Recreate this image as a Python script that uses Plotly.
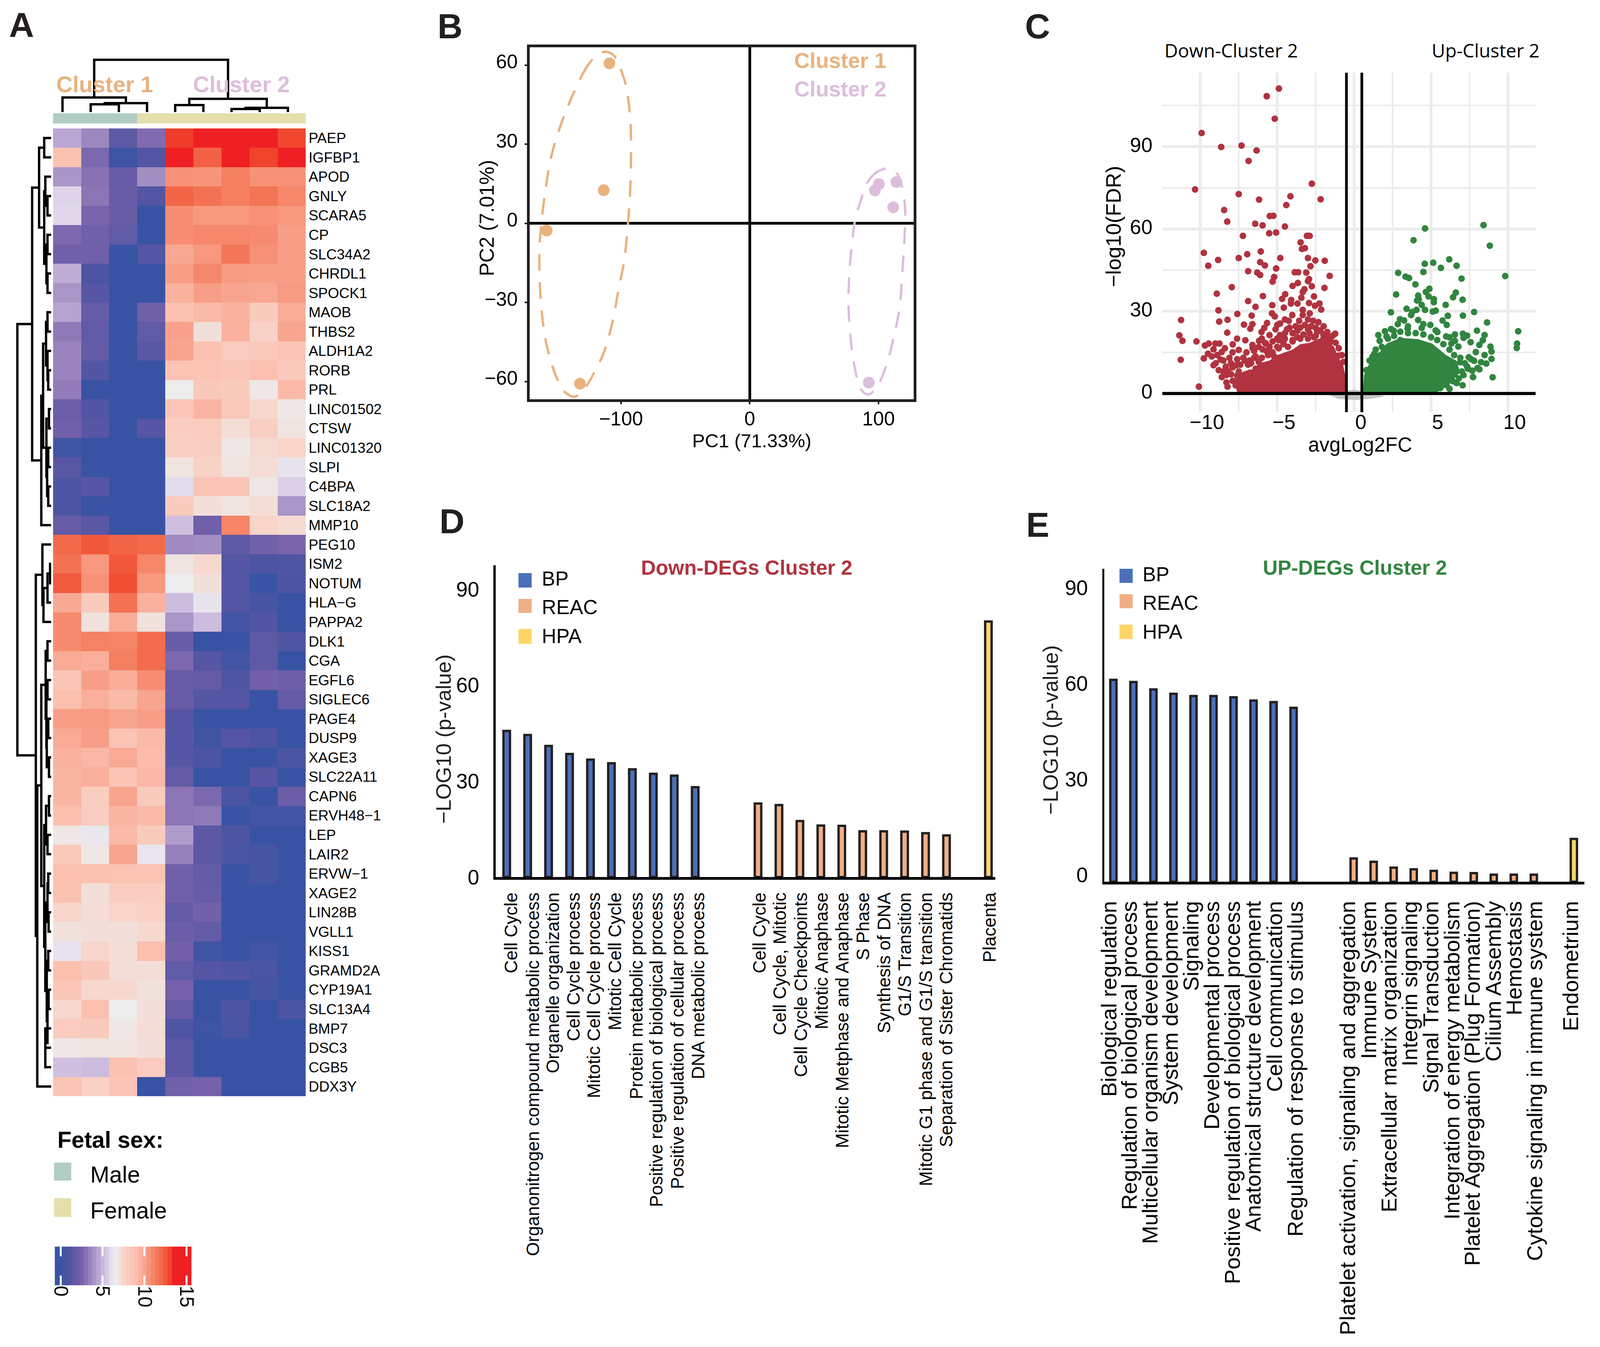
import plotly.graph_objects as go

# Reference frame used for placing panels as fractions of the page; the window may be narrower than this.
W, H = 4379, 3448
FX = 0.935   # the browser window is capped at 4096 wide: horizontal text is scaled to keep its share of the width
FONT = "Liberation Sans"
INK = "#231F20"

# ---------- Panel A data ----------
genes = ["PAEP","IGFBP1","APOD","GNLY","SCARA5","CP","SLC34A2","CHRDL1","SPOCK1","MAOB","THBS2","ALDH1A2","RORB","PRL",
         "LINC01502","CTSW","LINC01320","SLPI","C4BPA","SLC18A2","MMP10","PEG10","ISM2","NOTUM","HLA\u2212G","PAPPA2","DLK1","CGA",
         "EGFL6","SIGLEC6","PAGE4","DUSP9","XAGE3","SLC22A11","CAPN6","ERVH48\u22121","LEP","LAIR2","ERVW\u22121","XAGE2","LIN28B",
         "VGLL1","KISS1","GRAMD2A","CYP19A1","SLC13A4","BMP7","DSC3","CGB5","DDX3Y"]
expression = [
 [4.5,3.6,1.6,2.8,13.1,13.5,13.5,13.5,12.9],
 [8.8,2.7,0.2,1.2,13.5,12.2,13.5,13.0,13.5],
 [4.0,3.0,1.9,3.8,10.6,10.5,11.2,10.6,10.6],
 [5.7,3.1,2.0,1.2,12.1,11.7,11.2,11.6,10.9],
 [5.8,2.6,2.0,0,10.7,10.4,10.4,10.6,10.4],
 [2.7,2.3,1.7,0,10.7,10.9,10.9,10.8,10.2],
 [2.3,2.3,0,1.2,9.9,10.4,11.5,10.6,10.2],
 [4.7,0.8,0,0,10.2,10.9,10.3,10.2,10.2],
 [4.0,1.3,0,0,9.5,10.2,10.0,9.9,10.3],
 [4.4,1.9,0,2.3,8.8,9.2,9.5,8.2,9.7],
 [3.2,1.7,0,1.7,10.1,7.1,9.5,7.7,10.0],
 [3.5,1.8,0,1.4,10.0,8.8,8.1,8.3,8.6],
 [3.5,1.1,0,0,8.7,8.7,8.5,8.9,8.3],
 [3.3,0,0,0,6.6,8.4,8.2,6.8,9.2],
 [2.2,1.1,0,0,8.5,9.4,8.3,7.4,6.8],
 [2.3,1.3,0,1.3,8.0,8.1,7.2,7.9,6.9],
 [0.3,0,0,0,7.9,8.0,6.8,7.3,7.6],
 [1.4,0,0,0,6.9,7.7,6.9,7.2,6.2],
 [0.9,1.3,0,0,5.9,8.6,8.6,6.8,5.6],
 [0.9,0.1,0,0,8.2,7.1,6.9,7.2,4.0],
 [1.9,1.4,0,0,5.2,2.3,11.0,7.6,7.3],
 [12.0,12.5,12.1,12.0,3.7,3.8,1.6,2.3,2.6],
 [11.7,10.4,12.5,10.9,6.9,7.4,1.2,0.9,1.0],
 [12.4,10.6,12.7,10.4,6.6,7.1,1.2,0,0.9],
 [9.9,8.2,11.7,9.5,5.1,6.2,1.2,0.6,0],
 [10.8,7.0,9.7,7.0,4.0,5.1,0.5,1.1,0],
 [10.8,11.1,11.0,11.9,2.0,0,0,1.6,1.0],
 [9.8,9.6,11.2,11.9,2.7,1.2,0.5,1.6,0],
 [8.6,10.2,9.7,10.7,2.0,1.8,1.0,2.4,2.2],
 [9.0,9.6,9.2,10.0,2.0,1.2,1.2,0,1.8],
 [10.2,10.3,10.0,10.2,1.3,0,0,0,0],
 [9.8,10.2,8.7,9.2,1.3,0.3,1.2,0.9,0],
 [9.5,9.3,9.8,9.1,1.3,0.8,0,0,0.8],
 [9.4,9.6,8.7,9.3,1.8,0,0,1.3,0],
 [9.4,8.0,10.0,8.2,3.1,2.7,0.8,0,2.1],
 [9.0,8.1,9.4,9.2,3.1,3.2,0,0.5,0.5],
 [6.8,6.3,9.2,8.2,4.2,1.5,0.9,0,0],
 [8.3,6.8,10.0,6.3,3.4,1.5,0.7,0.6,0],
 [8.9,8.8,8.7,8.7,2.3,1.8,0,0.6,0],
 [8.8,7.1,8.0,8.0,2.3,1.9,0,0,0],
 [7.5,7.2,7.6,7.8,1.8,2.4,0,0,0],
 [7.0,7.1,7.1,7.4,2.1,1.8,0,0,0],
 [6.1,7.5,7.2,9.0,2.4,0.3,0,0.5,0],
 [9.0,8.4,7.2,7.2,1.7,1.2,1.0,0.7,0],
 [8.5,7.4,7.4,7.0,2.5,0,0,0.6,0],
 [7.4,8.9,6.6,7.1,1.9,0,0.9,0,0.7],
 [8.1,8.2,6.8,7.2,1.0,0.2,0.7,0,0],
 [6.8,6.9,6.9,7.1,1.5,0,0,0,0],
 [5.2,5.1,8.8,8.1,1.5,0,0,0,0],
 [8.6,7.8,8.6,0,2.3,2.5,0,0,0],
]
fetal_sex = [0,0,0,1,1,1,1,1,1]
color_stops = [(0,"#3953A4"),(1.2,"#5455A3"),(2.5,"#7561AA"),(3.5,"#9A83BD"),(5,"#C9B8DC"),(6,"#E6E0EE"),(6.6,"#ECECEC"),
               (7.5,"#F8D5CB"),(9,"#FBBFAE"),(10,"#F8A58F"),(11,"#F68467"),(12,"#F26A4A"),(13,"#F0432B"),(13.5,"#EE2024"),(16,"#EE2024")]
colorbar_steps = [-0.7,-0.4,0,0.4,0.8,1.2,1.6,2,2.5,3,3.5,4,4.5,5,5.5,6,6.3,6.6,7,7.5,8,8.5,9,9.5,10,10.5,11,11.5,12,12.5,13,13.5,14,14.5,15,15.6]
row_tree = (92.5,
    (52, (33, (19,0,1), (19,(16,2,(10,3,4)),(13,(10,5,6),(10,7,8)))),
         (27, (22,(14,(10,9,10),(10,11,(8,12,13))),(13,(6,14,15),(11,(8,16,17),(8,18,19)))),20)),
    (42, (24,21,(21,(10,(3,22,23),24),25)),
         (38, (27, (15,(10,26,27),(13,(10,28,29),(12,(8,30,31),(6,32,33)))),
                   (19,(14,(6,34,35),(10,36,37)),
                       (16,(10,(8,38,39),(7,40,41)),(12,(8,42,43),(10,(7,44,45),(16,46,(16,47,48)))))))
              ,49)))
col_tree = (134, (37.5,0,(23,(20,1,2),3)), (34,(18,4,5),(11,(8,6,7),8)))

# ---------- Panel B data ----------
c1_pc1 = [-109,-113.4,-157.7,-131.9]
c1_pc2 = [60.7,12.6,-2.7,-60.8]
c2_pc1 = [100.3,97.2,113.9,111.4,92.4]
c2_pc2 = [14.9,12.5,15.7,6.1,-60.4]
c1_ring_x = [-118.2,-125.8,-137.2,-146.1,-153.7,-158.2,-161.3,-163.3,-163.0,-161.3,-157.5,-149.9,-143.5,-135.9,-127.1,-119.5,-113.2,-106.8,-101.8,-97.5,-94.7,-92.9,-92.2,-92.9,-96.2,-100.5,-105.6,-111.9,-118.2]
c1_ring_y = [64.0,59.9,49.0,38.2,26.2,14.2,2.3,-9.7,-22.7,-34.7,-46.6,-58.6,-64.0,-65.7,-61.8,-55.3,-48.8,-37.9,-24.9,-14.0,-1.0,12.1,26.2,40.3,52.3,58.8,63.7,65.1,64.0]
c2_ring_x = [108.4,99.5,91.9,85.6,81.8,79.2,77.2,76.7,78.5,81.8,86.3,91.9,98.2,105.8,112.2,116.5,118.5,120.3,120.5,118.5,114.7,108.4]
c2_ring_y = [20.8,19.7,15.9,7.7,1.2,-8.6,-20.5,-31.4,-44.5,-55.3,-62.9,-64.9,-62.4,-54.2,-42.3,-31.4,-18.4,-4.2,6.6,13.2,18.6,20.8]

# ---------- Panel C data ----------
down_x = [-4.89,-5.68,-5.16,-9.91,-8.64,-7.32,-6.34,-6.86,-10.34,-2.75,-7.5,-4.14,-2.18,-6.18,-4.41,-8.45,-8.25,-5.48,-5.25,-6.43,-5.95,-4.5,-5.52,-5.07,-7.23,-3.07,-2.89,-3.48,-3.39,-3.2,-9.77,-6.07,-6.95,-7.5,-4.8,-8.84,-3.0,-2.52,-1.91,-6.11,-5.8,-9.48,-5.07,-2.84,-6.89,-6.3,-6.11,-3.86,-3.64,-3.11,-1.59,-5.2,-5.3,-2.93,-3.0,-3.66,-4.0,-2.75,-7.95,-1.93,-3.23,-3.34,-8.93,-4.48,-5.93,-2.61,-4.68,-4.09,-3.43,-6.89,-4.11,-2.93,-2.25,-5.32,-3.68,-6.41,-4.57,-2.55,-8.82,-2.14,-3.34,-7.59,-6.66,-5.34,-5.16,-4.02,-3.34,-2.89,-11.25,-8.23,-8.77,-5.66,-7.16,-6.61,-6.75,-4.82,-4.25,-3.57,-2.66,-2.32,-5.84,-6.02,-5.11,-4.36,-3.68,-3.0,-1.98,-8.25,-1.23,-11.36,-11.16,-10.25,-7.61,-7.07,-6.18,-5.5,-4.82,-1.75,-9.45,-9.02,-8.75,-7.89,-6.61,-5.73,-4.59,-9.14,-8.61,-7.5,-5.95,-1.0,-9.77,-9.25,-11.27,-8.68,-8.11,-9.14,-8.34,-7.66,-10.09,-8.23,-7.52,-8.32,-7.89,-6.86,-7.32,
          -6.5,-6.0,-5.5,-5.0,-4.5,-4.0,-3.5,-3.0,-2.5,-2.0,-1.5,-7.0,-6.8,-8.5,-7.5,-7.0,-6.5,-5.0,-4.0,-3.5,-4.5,-5.0,-2.8,-3.0,-2.2,-9.5,-8.9,-9.7,-8.4,-8.0,-8.8,-7.6,-6.9,-6.2,-5.6,-5.2,
          -8.6,-8.2,-7.9,-7.4,-7.1,-6.7,-6.4,-6.0,-5.7,-5.3,-4.9,-4.6,-4.3,-4.0,-3.7,-3.3,-2.9,-2.6,-2.4,-2.0,-1.7,-1.4,-1.2,-1.0,-0.8,-0.7,-6.6,-6.2,-5.8,-5.3,-4.9,-4.5,-4.2,-3.8,-3.2,-2.5,-8.0,-7.6,-8.3,-7.7,-7.1,-9.0,-8.5,-7.9,-7.2,-6.4,-6.8]
down_y = [111.2,108.4,100.2,95.0,89.9,90.4,88.6,84.8,74.4,76.5,72.7,71.9,70.8,70.7,68.7,66.9,62.7,64.7,64.8,61.9,61.3,60.9,58.4,58.7,57.5,57.5,57.5,55.1,52.7,53.0,51.3,51.8,50.8,49.4,49.4,48.7,49.4,48.5,48.4,47.9,46.7,46.6,45.6,46.4,44.6,44.1,43.2,44.2,44.2,44.1,42.9,42.5,40.8,41.7,41.0,40.3,39.2,39.1,38.8,38.5,38.0,37.0,36.4,36.2,35.5,35.4,34.5,34.1,34.9,33.7,32.8,33.0,32.8,32.2,32.8,31.6,31.3,32.0,30.3,30.6,30.5,29.0,28.4,29.2,28.1,28.6,28.6,29.2,26.8,26.9,26.2,25.7,25.1,25.3,23.6,25.5,26.5,26.5,26.5,26.0,23.9,22.4,23.4,23.4,22.9,23.4,24.5,22.2,21.8,21.2,19.2,19.0,20.0,19.4,19.2,21.3,21.3,22.4,18.2,18.2,18.2,17.9,17.7,18.2,18.2,16.1,15.1,15.9,16.1,13.8,12.8,13.5,12.3,12.4,13.0,10.3,9.8,10.3,2.5,2.5,3.0,6.7,4.6,2.5,1.5,
          13,20,17,20,22,22,20,20,21,20,19,15,12,8,8,6,15.5,17,19.5,24,27,25,24.5,27,23,14.5,14,17.5,16.5,11,8.5,12.5,10.5,11.5,14,13.5,
          6,8,9.5,10.5,12,11,13.5,13,15.5,15,16.5,18,17,19,20.5,21.5,22,20.5,22.5,21.5,20.5,21,18.5,16.5,14,11.5,16.5,17,18.5,19,19.5,20,24,24.5,25,24,7,6.5,4,3,2.5,11,12,15,13,9,7.5]
down_core_x = [-7.6,-7.8,-7.2,-6.5,-6.2,-5.5,-5.0,-4.5,-4.0,-3.5,-2.9,-2.3,-1.8,-1.3,-1.0,-0.7,-0.55,-0.5,-7.6]
down_core_y = [0.3,5,8,9,11,12,14,15,16,18,18.5,20,20,17,13,10,6,0.3,0.3]
up_x = [4.61,8.41,3.86,8.82,6.18,4.59,5.14,6.66,5.64,4.5,2.86,3.34,3.57,9.82,6.98,3.98,4.89,6.61,4.66,2.73,4.16,6.43,4.84,4.2,5.18,7.05,4.09,5.18,4.39,5.95,3.41,2.39,3.77,5.3,5.11,7.8,4.05,4.61,7.07,6.09,3.7,2.98,3.25,4.16,5.75,8.64,2.84,4.5,6.02,4.95,4.39,3.48,2.0,10.66,7.98,2.57,5.41,7.07,6.55,1.57,8.48,2.11,5.98,7.34,7.11,6.55,1.66,8.36,10.59,10.57,8.86,8.14,7.57,6.77,6.32,8.93,7.91,8.48,8.93,7.45,8.25,7.8,8.59,8.14,9.0,7.68,7.73,7.11,7.05,6.66,6.2,8.02,6.89,7.34,1.32,1.2,
        1.0,1.4,1.8,2.2,2.6,3.0,3.5,4.0,4.5,5.0,5.4,5.8,6.2,6.5,6.9,7.2,7.4,7.0,6.8,6.4,6.0,5.6,3.0,3.5,2.4,1.2,0.8,7.6,6.2,5.3]
up_y = [60.2,61.4,55.9,53.9,48.9,47.3,47.7,46.6,45.8,44.3,44.0,42.6,42.1,42.8,41.9,39.8,38.2,36.8,37.0,36.1,35.7,35.1,35.4,34.4,34.4,34.2,33.9,33.3,32.3,32.3,30.9,29.6,29.7,30.2,29.9,29.7,30.5,30.5,28.4,28.3,28.6,27.1,26.6,26.8,26.6,25.9,25.3,25.3,25.0,25.0,23.9,23.6,22.7,22.7,22.9,22.9,22.4,21.8,21.5,21.3,21.3,20.8,20.8,21.1,20.3,19.2,19.2,19.4,18.2,16.6,17.1,17.7,18.7,17.1,18.2,15.3,15.1,14.0,12.6,13.2,11.4,11.9,10.9,8.8,5.9,8.3,6.0,6.7,3.0,3.8,1.7,9.3,11.4,9.8,14.5,13.5,
        12,16,17,20,21,22.5,22,22,21.5,20.5,19.5,18,16,14,13,11,9,8,5.5,4.5,3,2,19.5,24.5,23.5,11,8.5,12.5,20.5,23]
up_core_x = [0.57,0.64,0.98,1.2,1.66,2.11,3.02,4.16,5.07,5.98,6.66,6.89,6.2,5.52,5.3,0.57]
up_core_y = [0.4,6.7,10.9,14.0,15.1,18.2,20.3,19.8,18.2,14.0,11.9,7.7,3.6,0.9,0.3,0.4]
ns_x = [-1.8,-1.0,0,1.0,2.0,0.5,0,-0.5,-1.0,-1.8]
ns_y = [-0.3,-2,-2.4,-2,-1,0.8,1.5,1,0,-0.3]

# ---------- Panels D, E data ----------
idx_bp = [0,1,2,3,4,5,6,7,8,9]
idx_reac = [12,13,14,15,16,17,18,19,20,21]
idx_hpa = [23]
d_bp = [45.7,44.4,41.0,38.5,36.7,35.6,33.7,32.3,31.7,28.1]
d_reac = [23.0,22.5,17.5,16.1,16.0,14.3,14.3,14.2,13.7,13.0]
d_hpa = [79.9]
d_labels = ["Cell Cycle","Organonitrogen compound metabolic process","Organelle organization","Cell Cycle process","Mitotic Cell Cycle process",
            "Mitotic Cell Cycle","Protein metabolic process","Positive regulation of biological process","Positive regulation of cellular process","DNA metabolic process",
            "Cell Cycle","Cell Cycle, Mitotic","Cell Cycle Checkpoints","Mitotic Anaphase","Mitotic Metphase and Anaphase","S Phase","Synthesis of DNA",
            "G1/S Transition","Mitotic G1 phase and G1/S transition","Separation of Sister Chromatids","Placenta"]
d_label_pos = [0.23,1.26,2.22,3.2,4.17,5.19,6.2,7.16,8.17,9.16,12.08,13.05,14.06,15.05,16.04,17.02,18.03,19.03,20.03,21.0,23.07]
e_bp = [63.3,62.6,60.3,58.9,58.2,58.2,57.8,56.8,56.3,54.5]
e_reac = [7.3,6.25,4.4,3.9,3.4,2.8,2.7,2.2,2.2,2.2]
e_hpa = [13.4]
e_labels = ["Biological regulation","Regulation of biological process","Multicellular organism development","System development","Signaling",
            "Developmental process","Positive regulation of biological process","Anatomical structure development","Cell communication","Regulation of response to stimulus",
            "Platelet activation, signaling and aggregation","Immune System","Extracellular matrix organization","Integrin signaling","Signal Transduction",
            "Integration of energy metabolism","Platelet Aggregation (Plug Formation)","Cilium Assembly","Hemostasis","Cytokine signaling in immune system","Endometrium"]
e_label_pos = [-0.21,0.81,1.84,2.85,3.9,4.93,5.97,7.0,8.06,9.11,11.72,12.77,13.79,14.81,15.87,16.93,17.95,19.0,20.02,21.07,22.86]
BLUE, PEACH, YELL = "#4A70B9", "#EFAF86", "#FDD667"
RED, GREEN = "#B0333F", "#31853F"
ORANGE_C, LILAC_C = "#E8B27E", "#DDBDDC"

# ---------- helpers ----------
def dx(l, r): return [l/W, r/W]
def dy(t, b): return [1-b/H, 1-t/H]
layout_axes = {}
def axes(n, xdom, ydom, xr, yr, **kw):
    base = {"showgrid":False, "zeroline":False, "showticklabels":False, "ticks":"", "automargin":False}
    xk = dict(base, domain=xdom, range=xr, anchor=f"y{n}")
    yk = dict(base, domain=ydom, range=yr, anchor=f"x{n}")
    xk.update(kw.get("x", {})); yk.update(kw.get("y", {}))
    layout_axes[f"xaxis{n}"] = xk; layout_axes[f"yaxis{n}"] = yk
    return dict(xaxis=f"x{n}", yaxis=f"y{n}")

def tree_lines(node, horizontal_leaves):
    xs, ys = [], []
    def walk(nd):
        if isinstance(nd, int):
            return float(nd), 0.0
        h, a, b = nd
        pa, ha = walk(a); pb, hb = walk(b)
        for p, v in [(pa,ha),(pa,h),(pb,h),(pb,hb)]:
            if horizontal_leaves: xs.append(p); ys.append(v)
            else: xs.append(v); ys.append(p)
        xs.append(None); ys.append(None)
        return (pa+pb)/2, h
    walk(node)
    return xs, ys

annots, shapes = [], []
def text(t, x, y, size, color="black", bold=False, anchor="center", angle=0, family=FONT):
    sz = size*FX if angle == 0 else size
    annots.append(dict(text=f"<b>{t}</b>" if bold else t, x=x/W, y=1-y/H, xref="paper", yref="paper", showarrow=False,
                       xanchor=anchor, yanchor="middle", textangle=angle, font=dict(size=sz, color=color, family=family)))
def square(l, t, r, b, color):
    shapes.append(dict(type="rect", xref="paper", yref="paper", x0=l/W, x1=r/W, y0=1-b/H, y1=1-t/H, fillcolor=color, line=dict(width=0)))

fig = go.Figure()
cs = [[v/16, c] for v, c in color_stops]

# ---------- Panel A ----------
a = axes(1, dx(145,837), dy(328.5,2806), [-0.5,8.5], [49.5,-0.5],
         y=dict(side="right", tickmode="array", tickvals=list(range(50)), ticktext=genes, showticklabels=True,
                tickfont=dict(size=37, family=FONT, color="black"), ticklabelstandoff=6))
fig.add_trace(go.Heatmap(z=expression, colorscale=cs, zmin=0, zmax=16, showscale=False, xgap=0, ygap=0, **a))
a = axes(2, dx(145,837), dy(290,316), [-0.5,8.5], [0,1])
fig.add_trace(go.Heatmap(z=[fetal_sex], y=[0.5], colorscale=[[0,"#B0CCC3"],[1,"#E4DFAC"]], zmin=0, zmax=1, showscale=False, **a))
a = axes(3, dx(30,140), dy(328.5,2806), [110,0], [49.5,-0.5])
lx, ly = tree_lines(row_tree, False)
fig.add_trace(go.Scatter(x=lx, y=ly, mode="lines", line=dict(color="black", width=6), **a))
a = axes(4, dx(132.5,826.5), dy(140,287), [-0.5,8.5], [0,147])
tx, ty = tree_lines(col_tree, True)
fig.add_trace(go.Scatter(x=tx, y=ty, mode="lines", line=dict(color="black", width=6), **a))
a = axes(5, dx(150,524), dy(3191,3290), [-0.7,15.6], [0,1],
         x=dict(tickmode="array", tickvals=[0,5,10,15], ticktext=["0","5","10","15"], showticklabels=True, tickangle=90,
                ticks="inside", ticklen=25, tickwidth=5, tickcolor="white", mirror="ticks",
                tickfont=dict(size=50, family=FONT, color="black")))
fig.add_trace(go.Heatmap(z=[colorbar_steps], x=colorbar_steps, y=[0.5], colorscale=cs, zmin=0, zmax=16, showscale=False, **a))
text("Cluster 1", 287, 216, 62, ORANGE_C, True)
text("Cluster 2", 661, 216, 62, LILAC_C, True)
text("Fetal sex:", 155, 2917, 63, "black", True, "left")
square(148,2976,195,3022,"#B0CCC3"); text("Male", 245, 3006, 63, "black", False, "left")
square(148,3067,195,3115,"#E4DFAC"); text("Female", 245, 3098, 63, "black", False, "left")

# ---------- Panel B ----------
b_tick = dict(size=50, family=FONT, color="black")
a = axes(6, dx(1450,2501), dy(121,1022), [-170.8,127.4], [-66.7,66.8],
         x=dict(tickvals=[-100,0,100], ticktext=["\u2212100","0","100"], showticklabels=True, ticks="outside", ticklen=6, tickwidth=4, tickcolor=INK,
                tickfont=b_tick, zeroline=True, zerolinewidth=7, zerolinecolor="black", showline=True, linewidth=7, linecolor=INK, mirror=True, ticklabelstandoff=-6),
         y=dict(tickvals=[-60,-30,0,30,60], ticktext=["\u221260","\u221230","0","30","60"], showticklabels=True, ticks="outside", ticklen=6, tickwidth=4, tickcolor=INK,
                tickfont=b_tick, zeroline=True, zerolinewidth=7, zerolinecolor="black", showline=True, linewidth=7, linecolor=INK, mirror=True, ticklabelshift=-9, ticklabelstandoff=8))
fig.add_trace(go.Scatter(x=c1_ring_x, y=c1_ring_y, mode="lines", line=dict(color=ORANGE_C, width=6, dash="42px,30px", shape="spline"), **a))
fig.add_trace(go.Scatter(x=c2_ring_x, y=c2_ring_y, mode="lines", line=dict(color=LILAC_C, width=6, dash="42px,30px", shape="spline"), **a))
fig.add_trace(go.Scatter(x=c1_pc1, y=c1_pc2, mode="markers", marker=dict(color=ORANGE_C, size=30), **a))
fig.add_trace(go.Scatter(x=c2_pc1, y=c2_pc2, mode="markers", marker=dict(color=LILAC_C, size=30), **a))
text("Cluster 1", 2171, 155, 59, ORANGE_C, True, "left")
text("Cluster 2", 2171, 228, 59, LILAC_C, True, "left")
text("PC1 (71.33%)", 2058, 1128, 52)
text("PC2 (7.01%)", 1332, 558, 52, angle=-90)

# ---------- Panel C ----------
GRID = "#EBEBEB"
a = axes(7, dx(3181,4203), dy(186,1055), [-12.47,11.8], [-6.8,117],
         x=dict(tickvals=[-10,-5,0,5,10], ticktext=["\u221210","\u22125","0","5","10"], showticklabels=True, tickfont=dict(size=52, family=FONT, color="black"),
                showgrid=True, gridcolor=GRID, gridwidth=7, ticklabelshift=17, ticklabelstandoff=-10, minor=dict(tickvals=[-7.5,-2.5,2.5,7.5], showgrid=True, gridcolor=GRID, gridwidth=4)),
         y=dict(tickvals=[0,30,60,90], showticklabels=True, tickfont=dict(size=52, family=FONT, color="black"),
                showgrid=True, gridcolor=GRID, gridwidth=7, ticklabelstandoff=24, ticklabelshift=-5, minor=dict(tickvals=[15,45,75,105], showgrid=True, gridcolor=GRID, gridwidth=4)))
fig.add_trace(go.Scatter(x=ns_x, y=ns_y, mode="lines", fill="toself", fillcolor="#C4C4C4", line=dict(width=0), **a))
fig.add_trace(go.Scatter(x=down_core_x, y=down_core_y, mode="lines", fill="toself", fillcolor=RED, line=dict(width=0, color=RED), **a))
fig.add_trace(go.Scatter(x=up_core_x, y=up_core_y, mode="lines", fill="toself", fillcolor=GREEN, line=dict(width=0, color=GREEN), **a))
fig.add_trace(go.Scatter(x=down_x, y=down_y, mode="markers", marker=dict(color=RED, size=17), **a))
fig.add_trace(go.Scatter(x=up_x, y=up_y, mode="markers", marker=dict(color=GREEN, size=17), **a))
for xv in (-0.5, 0.5):
    fig.add_trace(go.Scatter(x=[xv,xv], y=[-6.8,117], mode="lines", line=dict(color="black", width=7), **a))
fig.add_trace(go.Scatter(x=[-12.47,11.8], y=[0,0], mode="lines", line=dict(color="black", width=8), **a))
text("Down-Cluster 2", 3185, 128, 51, "black", False, "left", family="Open Sans")
text("Up-Cluster 2", 3916, 128, 51, "black", False, "left", family="Open Sans")
text("\u2212log10(FDR)", 3047, 580, 54, angle=-90)
text("avgLog2FC", 3723, 1138, 55)

# ---------- Panels D, E ----------
def bar_panel(n, xdom, ydom, xr, yr, bp, reac, hpa, labels, label_pos, lab_size, standoff, shift, ywidth):
    ya = dict(tickvals=[0,30,60,90], showticklabels=True, tickfont=dict(size=53, family=FONT, color="black"),
              showline=True, linewidth=ywidth, linecolor="black", ticklabelstandoff=26, ticklabelshift=shift)
    xa = dict(tickmode="array", tickvals=label_pos, ticktext=labels, showticklabels=True, tickangle=-90, ticklabelstandoff=standoff,
              tickfont=dict(size=lab_size, family=FONT, color="black"), showline=True, linewidth=7, linecolor="black")
    a = axes(n, xdom, ydom, xr, yr, x=xa, y=ya)
    for xs, vs, col in ((idx_bp,bp,BLUE),(idx_reac,reac,PEACH),(idx_hpa,hpa,YELL)):
        fig.add_trace(go.Bar(x=xs, y=vs, width=0.31, marker=dict(color=col, line=dict(color=INK, width=6)), **a))

bar_panel(8, dx(1357,2724), dy(1447,2245), [-0.52,23.33], [0,97.5], d_bp, d_reac, d_hpa, d_labels, d_label_pos, 46, 14, 0, 6)
bar_panel(9, dx(3022,4336), dy(1456,2257), [-0.46,23.52], [0,98.1], e_bp, e_reac, e_hpa, e_labels, e_label_pos, 56, 20, -18, 5)
text("Down-DEGs Cluster 2", 2044, 1453, 56, RED, True)
text("UP-DEGs Cluster 2", 3708, 1453, 56, GREEN, True)
text("\u2212LOG10 (p-value)", 1213, 1892, 54, INK, angle=-90)
text("\u2212LOG10 (p-value)", 2875, 1868, 54, INK, angle=-90)
for x_sq, x_tx, rows in ((1419,1481,[(1467,1504,1481,"BP",BLUE),(1533,1569,1554,"REAC",PEACH),(1610,1648,1628,"HPA",YELL)]),
                         (3064,3125,[(1456,1492,1470,"BP",BLUE),(1521,1557,1543,"REAC",PEACH),(1599,1636,1617,"HPA",YELL)])):
    for t, b, yc, lab, col in rows:
        square(x_sq, t, x_sq+36, b, col)
        text(lab, x_tx, yc, 55, "black", False, "left")

for lab, x, y in (("A",59,64),("B",1232,67),("C",2840,67),("D",1237,1335),("E",2840,1343)):
    text(lab, x, y, 95, INK, True)

fig.update_layout(margin=dict(l=0,r=0,t=0,b=0,autoexpand=False), paper_bgcolor="white", plot_bgcolor="white",
                  showlegend=False, barmode="overlay", annotations=annots, shapes=shapes, **layout_axes)
fit_to_window = """
var gd = document.getElementsByClassName('plotly-graph-div')[0];
document.body.style.margin = '0';
Plotly.relayout(gd, {width: window.innerWidth, height: window.innerHeight});
"""
fig.write_html("out.html", post_script=fit_to_window, config={"displayModeBar": False})
